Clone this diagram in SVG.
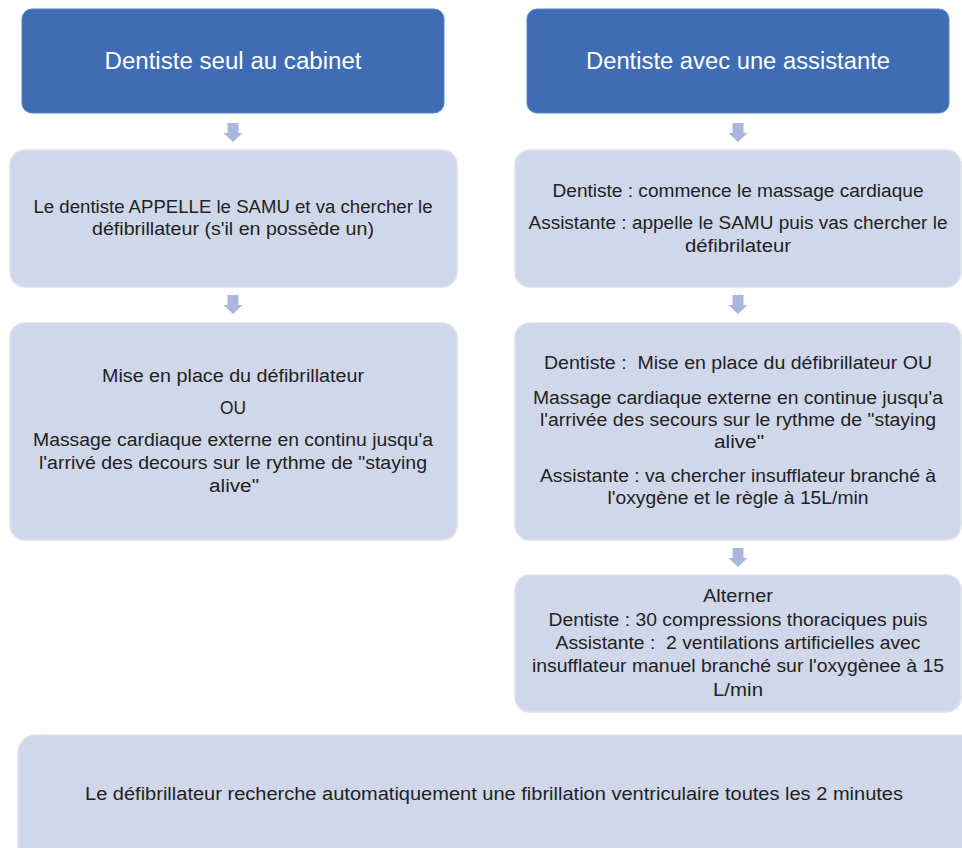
<svg xmlns="http://www.w3.org/2000/svg" width="962" height="848" viewBox="0 0 962 848">
<defs>
<style>
.hdr{fill:#3E6DB5;stroke:#5A84C4;stroke-width:1}
.box{fill:#D0D7EA;stroke:#DCE1F0;stroke-width:1.5}
.arr{fill:#A9B7DC}
.ht{font-family:"Liberation Sans",Arial,sans-serif;font-size:23px;fill:#FFFFFF;text-anchor:middle}
.t{font-family:"Liberation Sans",Arial,sans-serif;font-size:18px;fill:#222222;text-anchor:middle}
</style>
<path id="blk" d="M-5.5,0 H5.5 V10 H9.5 L0,19 L-9.5,10 H-5.5 Z"/>
</defs>
<rect width="962" height="848" fill="#FFFFFF"/>

<g id="connectors">
<use href="#blk" class="arr" x="233" y="123"/>
<use href="#blk" class="arr" x="738" y="123"/>
<use href="#blk" class="arr" x="233" y="295"/>
<use href="#blk" class="arr" x="738" y="295"/>
<use href="#blk" class="arr" x="738" y="548"/>
</g>

<g id="n_seul">
<rect class="hdr" x="22" y="9" width="422" height="104" rx="10"/>
<text class="ht" x="233" y="69" textLength="257" lengthAdjust="spacingAndGlyphs">Dentiste seul au cabinet</text>
</g>

<g id="n_assist">
<rect class="hdr" x="527" y="9" width="422" height="104" rx="10"/>
<text class="ht" x="738" y="69" textLength="304" lengthAdjust="spacingAndGlyphs">Dentiste avec une assistante</text>
</g>

<g id="n_appelle">
<rect class="box" x="10" y="150" width="447" height="137" rx="15"/>
<text class="t" x="233" y="213" textLength="399" lengthAdjust="spacingAndGlyphs">Le dentiste APPELLE le SAMU et va chercher le</text>
<text class="t" x="233" y="235" textLength="282" lengthAdjust="spacingAndGlyphs">défibrillateur (s'il en possède un)</text>
</g>

<g id="n_commence">
<rect class="box" x="515" y="150" width="446" height="137" rx="15"/>
<text class="t" x="738" y="197" textLength="371" lengthAdjust="spacingAndGlyphs">Dentiste : commence le massage cardiaque</text>
<text class="t" x="738" y="229" textLength="419" lengthAdjust="spacingAndGlyphs">Assistante : appelle le SAMU puis vas chercher le</text>
<text class="t" x="738" y="252" textLength="106" lengthAdjust="spacingAndGlyphs">défibrilateur</text>
</g>

<g id="n_mise_seul">
<rect class="box" x="10" y="323" width="447" height="217" rx="15"/>
<text class="t" x="233" y="382" textLength="262" lengthAdjust="spacingAndGlyphs">Mise en place du défibrillateur</text>
<text class="t" x="233" y="414" textLength="26" lengthAdjust="spacingAndGlyphs">OU</text>
<text class="t" x="233" y="446" textLength="400" lengthAdjust="spacingAndGlyphs">Massage cardiaque externe en continu jusqu'a</text>
<text class="t" x="233" y="469" textLength="388" lengthAdjust="spacingAndGlyphs">l'arrivé des decours sur le rythme de "staying</text>
<text class="t" x="234" y="492" textLength="50" lengthAdjust="spacingAndGlyphs">alive"</text>
</g>

<g id="n_mise_assist">
<rect class="box" x="515" y="323" width="446" height="217" rx="15"/>
<text class="t" x="738" y="369" textLength="388" lengthAdjust="spacingAndGlyphs" xml:space="preserve">Dentiste :  Mise en place du défibrillateur OU</text>
<text class="t" x="738" y="404" textLength="410" lengthAdjust="spacingAndGlyphs">Massage cardiaque externe en continue jusqu'a</text>
<text class="t" x="738" y="426" textLength="396" lengthAdjust="spacingAndGlyphs">l'arrivée des secours sur le rythme de "staying</text>
<text class="t" x="739" y="448" textLength="50" lengthAdjust="spacingAndGlyphs">alive"</text>
<text class="t" x="738" y="482" textLength="396" lengthAdjust="spacingAndGlyphs">Assistante : va chercher insufflateur branché à</text>
<text class="t" x="738" y="504" textLength="261" lengthAdjust="spacingAndGlyphs">l'oxygène et le règle à 15L/min</text>
</g>

<g id="n_alterner">
<rect class="box" x="515" y="575" width="446" height="137" rx="15"/>
<text class="t" x="738" y="602" textLength="70" lengthAdjust="spacingAndGlyphs">Alterner</text>
<text class="t" x="738" y="626" textLength="379" lengthAdjust="spacingAndGlyphs">Dentiste : 30 compressions thoraciques puis</text>
<text class="t" x="738" y="649" textLength="365" lengthAdjust="spacingAndGlyphs" xml:space="preserve">Assistante :  2 ventilations artificielles avec</text>
<text class="t" x="738" y="672" textLength="412" lengthAdjust="spacingAndGlyphs">insufflateur manuel branché sur l'oxygènee à 15</text>
<text class="t" x="738" y="696" textLength="50" lengthAdjust="spacingAndGlyphs">L/min</text>
</g>

<g id="n_auto">
<rect class="box" x="18" y="735" width="970" height="140" rx="18"/>
<text class="t" x="494" y="800" textLength="818" lengthAdjust="spacingAndGlyphs">Le défibrillateur recherche automatiquement une fibrillation ventriculaire toutes les 2 minutes</text>
</g>
</svg>
